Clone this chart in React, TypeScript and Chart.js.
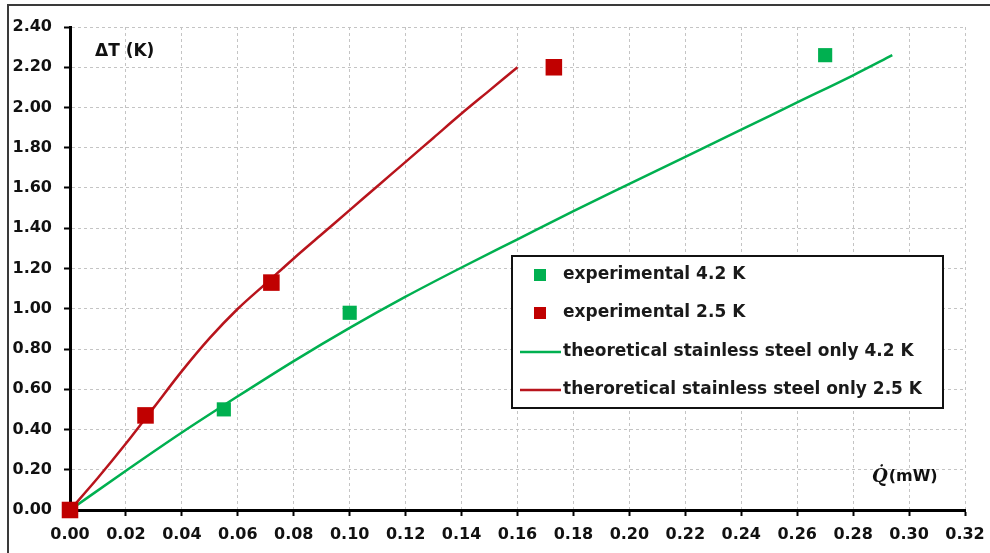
import React, { useEffect, useRef } from "react";
import { Chart, registerables } from "chart.js";

Chart.register(...registerables);

// ---- data ----
const xTicks = [0, 0.02, 0.04, 0.06, 0.08, 0.1, 0.12, 0.14, 0.16, 0.18, 0.2, 0.22, 0.24, 0.26, 0.28, 0.3, 0.32];
const yTicks = [0, 0.2, 0.4, 0.6, 0.8, 1.0, 1.2, 1.4, 1.6, 1.8, 2.0, 2.2, 2.4];

const seriesLabels = [
  "experimental 4.2 K",
  "experimental 2.5 K",
  "theoretical stainless steel only 4.2 K",
  "theroretical stainless steel only 2.5 K",
];

const exp42Q = [0, 0.055, 0.1, 0.27];
const exp42T = [0, 0.5, 0.98, 2.26];

const exp25Q = [0, 0.027, 0.072, 0.173];
const exp25T = [0, 0.47, 1.13, 2.2];

const theo42Q = [0, 0.02, 0.04, 0.06, 0.08, 0.1, 0.12, 0.14, 0.16, 0.18, 0.2, 0.22, 0.24, 0.26, 0.28, 0.294];
const theo42T = [0, 0.195, 0.385, 0.565, 0.74, 0.905, 1.06, 1.205, 1.345, 1.485, 1.62, 1.755, 1.89, 2.025, 2.16, 2.26];

const theo25Q = [0, 0.01, 0.02, 0.03, 0.04, 0.05, 0.06, 0.07, 0.08, 0.09, 0.1, 0.11, 0.12, 0.13, 0.14, 0.15, 0.16];
const theo25T = [0, 0.16, 0.33, 0.51, 0.69, 0.855, 1.0, 1.125, 1.25, 1.37, 1.49, 1.61, 1.73, 1.85, 1.97, 2.085, 2.2];

const GREEN = "#00b050";
const RED = "#c00000";
const TICK_FONT = { family: "'DejaVu Sans', sans-serif", size: 16, weight: "bold" as const };

const toPts = (xs: number[], ys: number[]) => xs.map((x, i) => ({ x, y: ys[i] }));

const decorPlugin = {
  id: "decor",
  beforeDraw(chart: any) {
    const { ctx, width, height } = chart;
    ctx.save();
    ctx.fillStyle = "#ffffff";
    ctx.fillRect(0, 0, width, height);
    ctx.strokeStyle = "#3a3a3a";
    ctx.lineWidth = 2;
    ctx.beginPath();
    ctx.moveTo(8, height);
    ctx.lineTo(8, 5);
    ctx.lineTo(width, 5);
    ctx.stroke();
    ctx.restore();
  },
  afterDraw(chart: any) {
    const { ctx, chartArea } = chart;
    ctx.save();
    // axis titles
    ctx.fillStyle = "#111";
    ctx.textBaseline = "middle";
    ctx.textAlign = "left";
    ctx.font = "bold 17px 'DejaVu Sans', sans-serif";
    ctx.fillText("\u0394T (K)", chartArea.left + 25, chartArea.top + 25);
    ctx.font = "bold italic 18px 'DejaVu Serif', serif";
    const qx = chartArea.right - 93;
    const qy = chartArea.bottom - 33;
    ctx.fillText("Q\u0307", qx, qy);
    const qw = ctx.measureText("Q").width;
    ctx.font = "bold 16px 'DejaVu Sans', sans-serif";
    ctx.fillText("(mW)", qx + qw + 1, qy);

    // legend
    const bx = 512, by = 256, bw = 431, bh = 152;
    ctx.fillStyle = "#ffffff";
    ctx.fillRect(bx, by, bw, bh);
    ctx.strokeStyle = "#111";
    ctx.lineWidth = 2;
    ctx.strokeRect(bx, by, bw, bh);
    const rows = [275, 313, 352, 390];
    chart.data.datasets.forEach((ds: any, i: number) => {
      const y = rows[i];
      if (ds.showLine) {
        ctx.strokeStyle = ds.borderColor;
        ctx.lineWidth = 2.5;
        ctx.beginPath();
        ctx.moveTo(520, y);
        ctx.lineTo(561, y);
        ctx.stroke();
      } else {
        ctx.fillStyle = ds.backgroundColor;
        ctx.fillRect(534, y - 6, 12, 12);
      }
      ctx.fillStyle = "#1a1a1a";
      ctx.font = "bold 17px 'DejaVu Sans', sans-serif";
      ctx.textBaseline = "middle";
      ctx.fillText(seriesLabels[i], 563, y);
    });
    ctx.restore();
  },
};

export default function App() {
  const ref = useRef<HTMLCanvasElement>(null);
  useEffect(() => {
    const chart = new Chart(ref.current!, {
      type: "scatter",
      data: {
        datasets: [
          {
            label: seriesLabels[0],
            data: toPts(exp42Q, exp42T),
            backgroundColor: GREEN,
            borderColor: GREEN,
            pointStyle: "rect",
            pointRadius: 10,
            pointBorderWidth: 0,
            showLine: false,
            clip: false,
            order: 1,
          },
          {
            label: seriesLabels[1],
            data: toPts(exp25Q, exp25T),
            backgroundColor: RED,
            borderColor: RED,
            pointStyle: "rect",
            pointRadius: 11.7,
            pointBorderWidth: 0,
            showLine: false,
            clip: false,
            order: 0,
          },
          {
            label: seriesLabels[2],
            data: toPts(theo42Q, theo42T),
            borderColor: GREEN,
            backgroundColor: GREEN,
            borderWidth: 2.5,
            pointRadius: 0,
            showLine: true,
            cubicInterpolationMode: "monotone",
            order: 3,
          },
          {
            label: seriesLabels[3],
            data: toPts(theo25Q, theo25T),
            borderColor: "#b8141c",
            backgroundColor: "#b8141c",
            borderWidth: 2.5,
            pointRadius: 0,
            showLine: true,
            cubicInterpolationMode: "monotone",
            order: 2,
          },
        ] as any,
      },
      options: {
        animation: false,
        responsive: false,
        devicePixelRatio: 1,
        layout: { padding: { left: 0, top: 27, right: 25, bottom: 0 } },
        plugins: { legend: { display: false }, tooltip: { enabled: false } },
        scales: {
          x: {
            type: "linear",
            min: 0,
            max: 0.32,
            afterBuildTicks: (s: any) => {
              s.ticks = xTicks.map((v) => ({ value: v }));
            },
            afterFit: (s: any) => {
              s.height = 43;
              s.paddingLeft = 10;
              s.paddingRight = 10;
            },
            ticks: {
              callback: (v: any) => Number(v).toFixed(2),
              font: TICK_FONT,
              color: "#111",
              padding: 9,
              maxRotation: 0,
              autoSkip: false,
            },
            grid: { color: "#c4c4c4", lineWidth: 1, tickLength: 6, tickColor: "#000", tickWidth: 2 },
            border: { color: "#000", width: 3, dash: [3, 3] },
          },
          y: {
            type: "linear",
            min: 0,
            max: 2.4,
            afterBuildTicks: (s: any) => {
              s.ticks = yTicks.map((v) => ({ value: v }));
            },
            afterFit: (s: any) => {
              s.width = 70;
            },
            ticks: {
              callback: (v: any) => Number(v).toFixed(2),
              font: TICK_FONT,
              color: "#111",
              padding: 12,
              autoSkip: false,
            },
            grid: { color: "#c4c4c4", lineWidth: 1, tickLength: 6, tickColor: "#000", tickWidth: 2 },
            border: { color: "#000", width: 3, dash: [3, 3] },
          },
        },
      } as any,
      plugins: [decorPlugin],
    });
    return () => chart.destroy();
  }, []);
  return (
    <div style={{ position: "fixed", left: 0, top: 0, width: 990, height: 553, background: "#fff" }}>
      <canvas ref={ref} width={990} height={553} style={{ display: "block", width: 990, height: 553 }} />
    </div>
  );
}
